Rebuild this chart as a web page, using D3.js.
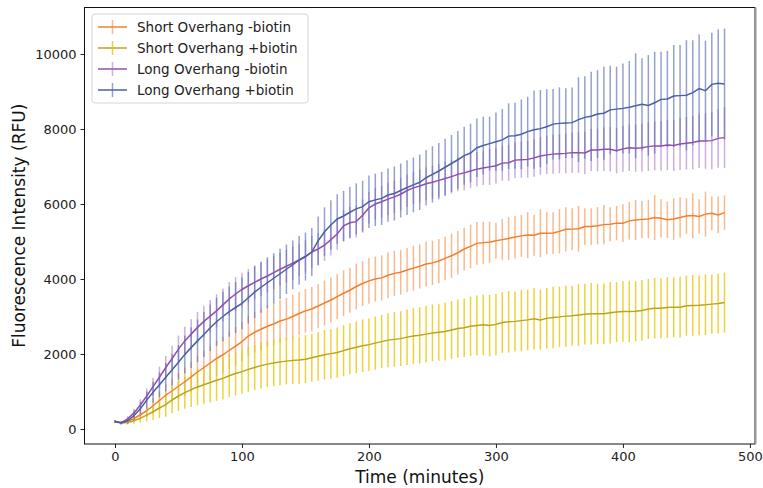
<!DOCTYPE html>
<html>
<head>
<meta charset="utf-8">
<script src="https://cdn.jsdelivr.net/npm/d3@7"></script>
<style>
  body { margin: 0; background: #fff; }
  text { font-family: 'DejaVu Sans', sans-serif; }
</style>
</head>
<body>
<div id="container"></div>
<script>
// time points (minutes)
const times = d3.range(0, 481, 5);

const seriesNames = ['Short Overhang -biotin', 'Short Overhang +biotin', 'Long Overhang -biotin', 'Long Overhang +biotin'];

const shortMinus = [200,170,200,280,380,490,620,760,900,1020,
  1140,1260,1390,1520,1640,1760,1880,1980,2100,2210,
  2330,2480,2580,2660,2740,2800,2880,2930,3000,3080,
  3150,3200,3280,3360,3440,3530,3620,3700,3800,3880,
  3950,4000,4030,4100,4150,4180,4240,4290,4340,4400,
  4430,4480,4550,4620,4700,4800,4870,4950,4970,4980,
  5020,5050,5080,5120,5150,5170,5165,5220,5220,5225,
  5270,5325,5330,5340,5400,5400,5420,5450,5460,5490,
  5490,5550,5575,5590,5600,5640,5620,5580,5600,5640,
  5680,5690,5670,5730,5750,5710,5770];
const shortMinusSd = [40,40,60,90,130,170,210,250,290,320,
  350,380,400,420,440,460,470,480,500,510,
  520,530,540,550,560,560,570,570,580,580,
  580,590,590,600,600,600,610,600,610,600,
  610,600,600,610,600,600,590,600,590,600,
  590,590,580,590,580,570,580,570,560,550,
  480,550,570,570,560,610,545,640,560,555,
  590,590,560,610,490,490,495,525,455,460,
  505,500,535,500,510,600,510,485,555,540,
  475,600,460,600,450,490,455];

const shortPlus = [200,160,170,220,290,370,460,560,650,780,
  880,970,1050,1120,1180,1240,1300,1350,1420,1480,
  1530,1590,1640,1690,1730,1760,1790,1810,1830,1840,
  1860,1900,1940,1980,2010,2040,2090,2140,2180,2220,
  2250,2290,2330,2370,2390,2410,2450,2480,2500,2530,
  2560,2580,2600,2640,2680,2700,2740,2760,2780,2760,
  2790,2840,2860,2870,2890,2910,2940,2910,2950,2975,
  2990,3010,3020,3040,3063,3072,3072,3072,3100,3117,
  3135,3135,3140,3161,3200,3220,3223,3240,3250,3250,
  3286,3294,3300,3312,3330,3345,3374];
const shortPlusSd = [30,30,50,80,120,170,220,270,320,360,
  400,430,460,490,510,530,550,560,570,580,
  590,600,600,610,610,620,620,620,630,630,
  640,640,650,660,660,670,680,680,690,700,
  700,710,710,720,730,730,740,740,750,750,
  760,760,770,770,780,780,790,800,810,820,
  820,810,820,800,820,810,820,800,810,820,
  810,820,800,820,810,820,800,810,820,800,
  810,820,800,810,800,810,800,810,800,810,
  800,810,800,810,790,800,800];

const longMinus = [200,170,270,430,640,880,1130,1380,1640,1880,
  2130,2350,2530,2710,2870,3010,3150,3310,3470,3600,
  3720,3820,3910,4000,4080,4170,4260,4340,4420,4510,
  4600,4720,4800,4900,5050,5200,5420,5500,5530,5700,
  5900,6000,6060,6130,6190,6260,6360,6430,6480,6540,
  6580,6630,6680,6730,6790,6830,6880,6930,6960,6990,
  7020,7090,7100,7170,7180,7190,7230,7280,7310,7330,
  7340,7350,7370,7370,7360,7440,7440,7460,7460,7420,
  7470,7500,7490,7500,7530,7550,7550,7570,7560,7600,
  7620,7640,7680,7680,7690,7750,7770];
const longMinusSd = [40,40,70,110,150,200,240,280,310,340,
  360,380,400,410,420,430,440,440,450,450,
  450,450,450,450,440,440,440,440,440,430,
  430,430,430,420,420,420,420,420,420,420,
  420,420,420,430,430,430,430,430,440,440,
  440,440,450,450,450,460,460,460,450,480,
  470,470,480,480,480,490,500,500,510,520,
  520,530,540,540,560,560,570,580,590,600,
  610,620,630,640,650,650,660,670,680,690,
  700,710,720,740,760,780,810];

const longPlus = [200,160,220,360,540,770,980,1180,1380,1580,
  1780,1990,2170,2350,2520,2700,2860,3000,3130,3240,
  3350,3500,3650,3780,3900,4020,4140,4260,4380,4500,
  4600,4720,5020,5260,5440,5600,5680,5780,5870,5930,
  6060,6110,6150,6240,6280,6360,6440,6510,6580,6700,
  6790,6880,6980,7080,7180,7290,7360,7500,7560,7610,
  7660,7710,7810,7820,7860,7930,7980,8010,8060,8130,
  8150,8160,8170,8250,8310,8340,8400,8420,8510,8530,
  8550,8580,8620,8660,8630,8700,8790,8800,8880,8890,
  8900,8970,9080,9020,9190,9220,9200];
const longPlusSd = [40,40,80,130,180,230,280,330,380,420,
  460,500,540,570,600,620,640,660,670,680,
  690,690,690,680,680,670,670,660,650,650,
  640,640,650,650,660,660,670,680,680,690,
  700,700,710,710,720,720,730,730,740,740,
  750,750,760,760,770,770,780,780,770,720,
  780,825,876,880,930,930,1040,1030,1000,940,
  960,930,940,1130,1100,1190,1170,1240,1180,1130,
  1200,1234,1400,1225,1340,1360,1270,1280,1360,1350,
  1470,1400,1440,1335,1380,1440,1480];

const xTicks = [0, 100, 200, 300, 400, 500];
const yTicks = [0, 2000, 4000, 6000, 8000, 10000];

const width = 763, height = 488;
const plot = {left: 84.5, right: 755, top: 7.5, bottom: 444};

const styles = [
  {line: '#f0802e', err: '#f38a42', errOp: 0.6},
  {line: '#b8a51f', err: '#e6c90a', errOp: 0.8},
  {line: '#8f4fb0', err: '#a56ac5', errOp: 0.55},
  {line: '#4b5ea6', err: '#5a6eb4', errOp: 0.65}
];

const sds = [shortMinusSd, shortPlusSd, longMinusSd, longPlusSd];
const series = [shortMinus, shortPlus, longMinus, longPlus].map((vals, i) => ({
  name: seriesNames[i],
  style: styles[i],
  points: vals.map((v, j) => ({t: times[j], v: v, sd: sds[i][j]}))
}));

const svg = d3.select('#container').append('svg')
  .attr('width', width).attr('height', height);

const x = d3.scaleLinear().domain([-24, 504]).range([plot.left, plot.right]);
const y = d3.scaleLinear().domain([-400, 11240]).range([plot.bottom, plot.top]);

// error bars first
series.forEach(s => {
  svg.append('g').selectAll('line')
    .data(s.points)
    .enter()
    .append('line')
    .attr('x1', d => x(d.t)).attr('x2', d => x(d.t))
    .attr('y1', d => y(d.v - d.sd)).attr('y2', d => y(d.v + d.sd))
    .attr('stroke', s.style.err)
    .attr('stroke-opacity', s.style.errOp)
    .attr('stroke-width', 1.5);
});

// mean lines on top
const lineGen = d3.line().x(d => x(d.t)).y(d => y(d.v));
series.forEach(s => {
  svg.append('path')
    .attr('d', lineGen(s.points))
    .attr('fill', 'none')
    .attr('stroke', s.style.line)
    .attr('stroke-width', 1.5);
});

// axes
const xAxis = svg.append('g')
  .attr('transform', `translate(0,${plot.bottom})`)
  .call(d3.axisBottom(x).tickValues(xTicks).tickSize(4).tickPadding(4));
const yAxis = svg.append('g')
  .attr('transform', `translate(${plot.left},0)`)
  .call(d3.axisLeft(y).tickValues(yTicks).tickSize(4).tickPadding(4).tickFormat(d3.format('d')));
[xAxis, yAxis].forEach(a => {
  a.select('.domain').remove();
  a.selectAll('text').attr('font-size', 13).attr('fill', '#222').attr('font-family', 'DejaVu Sans');
  a.selectAll('line').attr('stroke', '#222');
});

// spines
svg.append('rect')
  .attr('x', plot.left).attr('y', plot.top)
  .attr('width', plot.right - plot.left).attr('height', plot.bottom - plot.top)
  .attr('fill', 'none').attr('stroke', '#111').attr('stroke-width', 1);
svg.append('line')
  .attr('x1', plot.right + 0.5).attr('x2', plot.right + 0.5)
  .attr('y1', plot.top).attr('y2', plot.bottom)
  .attr('stroke', '#999').attr('stroke-width', 2);

// axis labels
svg.append('text')
  .attr('x', (plot.left + plot.right) / 2).attr('y', 483)
  .attr('text-anchor', 'middle').attr('font-size', 17).attr('fill', '#111')
  .text('Time (minutes)');
svg.append('text')
  .attr('transform', `translate(25,${(plot.top + plot.bottom) / 2}) rotate(-90)`)
  .attr('text-anchor', 'middle').attr('font-size', 17).attr('fill', '#111')
  .text('Fluorescence Intensity (RFU)');

// legend
const legend = svg.append('g').attr('transform', 'translate(92,14)');
legend.append('rect')
  .attr('width', 216).attr('height', 89).attr('rx', 3)
  .attr('fill', '#fff').attr('fill-opacity', 0.8)
  .attr('stroke', '#d5d5d5');
series.forEach((s, i) => {
  const g = legend.append('g').attr('transform', `translate(0,${13 + i * 21})`);
  g.append('line').attr('x1', 6).attr('x2', 35).attr('y1', 0).attr('y2', 0)
    .attr('stroke', s.style.line).attr('stroke-width', 1.5);
  g.append('line').attr('x1', 20.5).attr('x2', 20.5).attr('y1', -7).attr('y2', 7)
    .attr('stroke', s.style.err).attr('stroke-opacity', s.style.errOp).attr('stroke-width', 1.5);
  g.append('text').attr('x', 45).attr('y', 5)
    .attr('font-size', 13.5).attr('fill', '#222')
    .text(s.name);
});
</script>
</body>
</html>
